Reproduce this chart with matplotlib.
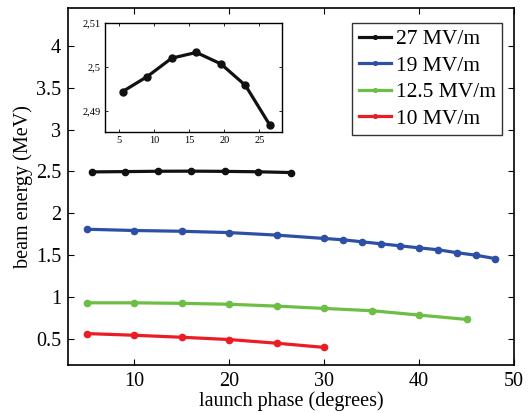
import matplotlib
matplotlib.use("Agg")
import matplotlib.pyplot as plt
from matplotlib.ticker import FuncFormatter

plt.rcParams['font.family'] = ['Liberation Serif', 'DejaVu Serif']
plt.rcParams['mathtext.fontset'] = 'stix'

# Data
phase_27 = [5.5, 9, 12.5, 16, 19.5, 23, 26.5]
energy_27 = [2.4944, 2.4978, 2.5020, 2.5033, 2.5007, 2.4958, 2.4867]

phase_19 = [5, 10, 15, 20, 25, 30, 32, 34, 36, 38, 40, 42, 44, 46, 48]
energy_19 = [1.81, 1.795, 1.786, 1.77, 1.74, 1.70, 1.684, 1.66, 1.636, 1.612,
             1.588, 1.565, 1.53, 1.50, 1.46]

phase_125 = [5, 10, 15, 20, 25, 30, 35, 40, 45]
energy_125 = [0.932, 0.932, 0.926, 0.915, 0.893, 0.865, 0.838, 0.786, 0.734]

phase_10 = [5, 10, 15, 20, 25, 30]
energy_10 = [0.565, 0.545, 0.521, 0.494, 0.45, 0.40]

labels = ['27 MV/m', '19 MV/m', '12.5 MV/m', '10 MV/m']
colors = ['#111111', '#2E4FA6', '#6DBE45', '#EC1C24']

main_xticks = [10, 20, 30, 40, 50]
main_yticks = [0.5, 1, 1.5, 2, 2.5, 3, 3.5, 4]
inset_xticks = [5, 10, 15, 20, 25]
inset_yticks = [2.49, 2.50, 2.51]

fig = plt.figure(figsize=(5.32, 4.13), dpi=100)
ax = fig.add_axes([0.1278, 0.1162, 0.9662 - 0.1278, 0.9806 - 0.1162])

series = [(phase_27, energy_27), (phase_19, energy_19),
          (phase_125, energy_125), (phase_10, energy_10)]
for (x, y), lab, c in zip(series, labels, colors):
    ax.plot(x, y, '-', color=c, lw=2.3, marker='o', ms=4.5, label=lab)

ax.set_xlim(3, 50)
ax.set_ylim(0.19, 4.45)
ax.set_xticks(main_xticks)
ax.set_yticks(main_yticks)
ax.yaxis.set_major_formatter(FuncFormatter(lambda v, p: f'{v:g}'))
ax.tick_params(direction='in', top=True, right=True, labelsize=14.5,
               length=4, width=0.8, pad=5)
for s in ax.spines.values():
    s.set_linewidth(1.2)
ax.set_xlabel('launch phase (degrees)', fontsize=14.5, labelpad=0)
ax.set_ylabel('beam energy (MeV)', fontsize=14.5, labelpad=2)

leg = ax.legend(loc='upper right', bbox_to_anchor=(502 / 532, 1 - 22.7 / 413),
                bbox_transform=fig.transFigure, borderaxespad=0,
                fancybox=False, edgecolor='black', fontsize=15.5,
                handlelength=1.5, handletextpad=0.2, labelspacing=0.3,
                borderpad=0.3, markerscale=0.6)
leg.get_frame().set_linewidth(1.0)

# Inset
axi = fig.add_axes([0.1974, 0.6804, 0.530 - 0.1974, 0.9443 - 0.6804])
axi.plot(phase_27, energy_27, '-', color=colors[0], lw=2.3, marker='o', ms=5)
axi.set_xlim(3, 28.2)
axi.set_ylim(2.4852, 2.51)
axi.set_xticks(inset_xticks)
axi.set_yticks(inset_yticks)
axi.yaxis.set_major_formatter(FuncFormatter(lambda v, p: f'{v:g}'.replace('.', ',')))
axi.tick_params(direction='in', top=True, right=True, labelsize=7.5,
                length=2.5, width=0.6, pad=3)
for s in axi.spines.values():
    s.set_linewidth(1.0)

fig.savefig('out.png', dpi=100)
